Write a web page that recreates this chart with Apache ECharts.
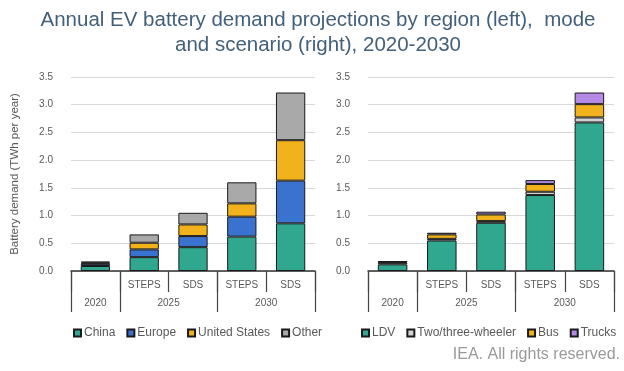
<!DOCTYPE html>
<html>
<head>
<meta charset="utf-8">
<script src="https://cdn.jsdelivr.net/npm/echarts@6/dist/echarts.min.js"></script>
<style>
html,body{margin:0;padding:0;background:#fff;}
#chart{width:624px;height:371px;}
</style>
</head>
<body>
<div id="chart"></div>
<script>
// ---- data ----
var scenarios = ['', 'STEPS', 'SDS', 'STEPS', 'SDS'];
var years = ['2020', '2025', '2030'];
var yearSpans = [1, 2, 2];

var regionNames = ['China', 'Europe', 'United States', 'Other'];
var china  = [0.09, 0.25, 0.43, 0.62, 0.86];
var europe = [0.04, 0.14, 0.20, 0.36, 0.77];
var us     = [0.02, 0.12, 0.21, 0.24, 0.73];
var other  = [0.02, 0.15, 0.21, 0.38, 0.86];

var modeNames = ['LDV', 'Two/three-wheeler', 'Bus', 'Trucks'];
var ldv      = [0.12, 0.55, 0.87, 1.37, 2.68];
var twoThree = [0.03, 0.03, 0.03, 0.06, 0.09];
var bus      = [0.015, 0.08, 0.12, 0.14, 0.24];
var trucks   = [0.01, 0.03, 0.05, 0.07, 0.21];

var yTicks = [0, 0.5, 1, 1.5, 2, 2.5, 3, 3.5];

// ---- build ----
var yearCenters = [], yearBounds = [0], acc = 0;
yearSpans.forEach(function (s) { yearCenters.push(acc + s / 2); acc += s; yearBounds.push(acc); });

var FONT = '"Liberation Sans", Arial, sans-serif';
var labelColor = '#595959';

function catAxis(gi) {
  return {
    type: 'category', gridIndex: gi, data: scenarios, position: 'bottom',
    axisLine: { lineStyle: { color: '#333', width: 1.5 } },
    axisTick: { show: true, interval: 0, length: 21, lineStyle: { color: '#444', width: 1.2 } },
    axisLabel: { interval: 0, color: labelColor, fontSize: 10, fontFamily: FONT, margin: 9 }
  };
}
function yearAxis(gi) {
  return {
    type: 'value', gridIndex: gi, min: 0, max: scenarios.length, position: 'bottom',
    axisLine: { show: false }, splitLine: { show: false },
    axisTick: { show: true, customValues: yearBounds, length: 41, lineStyle: { color: '#444', width: 1.2 } },
    axisLabel: {
      customValues: yearCenters, color: labelColor, fontSize: 10, fontFamily: FONT, margin: 27,
      formatter: function (v) { var i = yearCenters.indexOf(v); return i >= 0 ? years[i] : ''; }
    }
  };
}
function yAxis(gi, name) {
  return {
    type: 'value', gridIndex: gi, min: yTicks[0], max: yTicks[yTicks.length - 1], interval: yTicks[1] - yTicks[0],
    name: name, nameLocation: 'middle', nameGap: 50, nameRotate: 90,
    nameTextStyle: { color: labelColor, fontSize: 11.5, fontFamily: FONT },
    axisLine: { show: false }, axisTick: { show: false },
    axisLabel: { color: labelColor, fontSize: 10, fontFamily: FONT, margin: 18, formatter: function (v) { return v.toFixed(1); } },
    splitLine: { lineStyle: { color: '#d9d9d9', width: 1 } }
  };
}
function bar(name, data, color, xi, yi, stack) {
  return {
    name: name, type: 'bar', stack: stack, xAxisIndex: xi, yAxisIndex: yi, data: data,
    barWidth: '60%',
    itemStyle: { color: color, borderColor: '#1a1a1a', borderWidth: 1 }
  };
}

var regionColors = ['#2fa88f', '#3a72cf', '#f2b21b', '#a9a9a9'];
var modeColors = ['#2fa88f', '#d3d3d3', '#f2b21b', '#b48ae6'];
var regionData = [china, europe, us, other];
var modeData = [ldv, twoThree, bus, trucks];

var series = [];
regionNames.forEach(function (n, i) { series.push(bar(n, regionData[i], regionColors[i], 0, 0, 'r')); });
modeNames.forEach(function (n, i) { series.push(bar(n, modeData[i], modeColors[i], 2, 1, 'm')); });

var legendCommon = {
  orient: 'horizontal', top: 322, itemWidth: 7, itemHeight: 7, itemGap: 11,
  textStyle: { color: labelColor, fontSize: 12, fontFamily: FONT, padding: [0, 0, 0, -2] },
  icon: 'rect'
};

var option = {
  backgroundColor: '#fff',
  animation: false,
  title: {
    text: 'Annual EV battery demand projections by region (left),  mode\nand scenario (right), 2020-2030',
    left: 313, top: 3, textAlign: 'center',
    textStyle: { color: '#43607a', fontSize: 20.5, fontWeight: 'normal', fontFamily: FONT, lineHeight: 25 }
  },
  legend: [
    Object.assign({ data: regionNames, left: 68 }, legendCommon),
    Object.assign({ data: modeNames, left: 356 }, legendCommon)
  ],
  grid: [
    { left: 71, right: 309, top: 77, bottom: 100 },
    { left: 368, right: 10, top: 77, bottom: 100 }
  ],
  xAxis: [catAxis(0), yearAxis(0), catAxis(1), yearAxis(1)],
  yAxis: [yAxis(0, 'Battery demand (TWh per year)'), yAxis(1, '')],
  graphic: [{
    type: 'text', right: 4, top: 347,
    style: { text: 'IEA. All rights reserved.', fill: '#9a9a9a', fontSize: 16, fontFamily: FONT }
  }],
  series: series
};

var chart = echarts.init(document.getElementById('chart'), null, { renderer: 'canvas' });
chart.setOption(option);
</script>
</body>
</html>
